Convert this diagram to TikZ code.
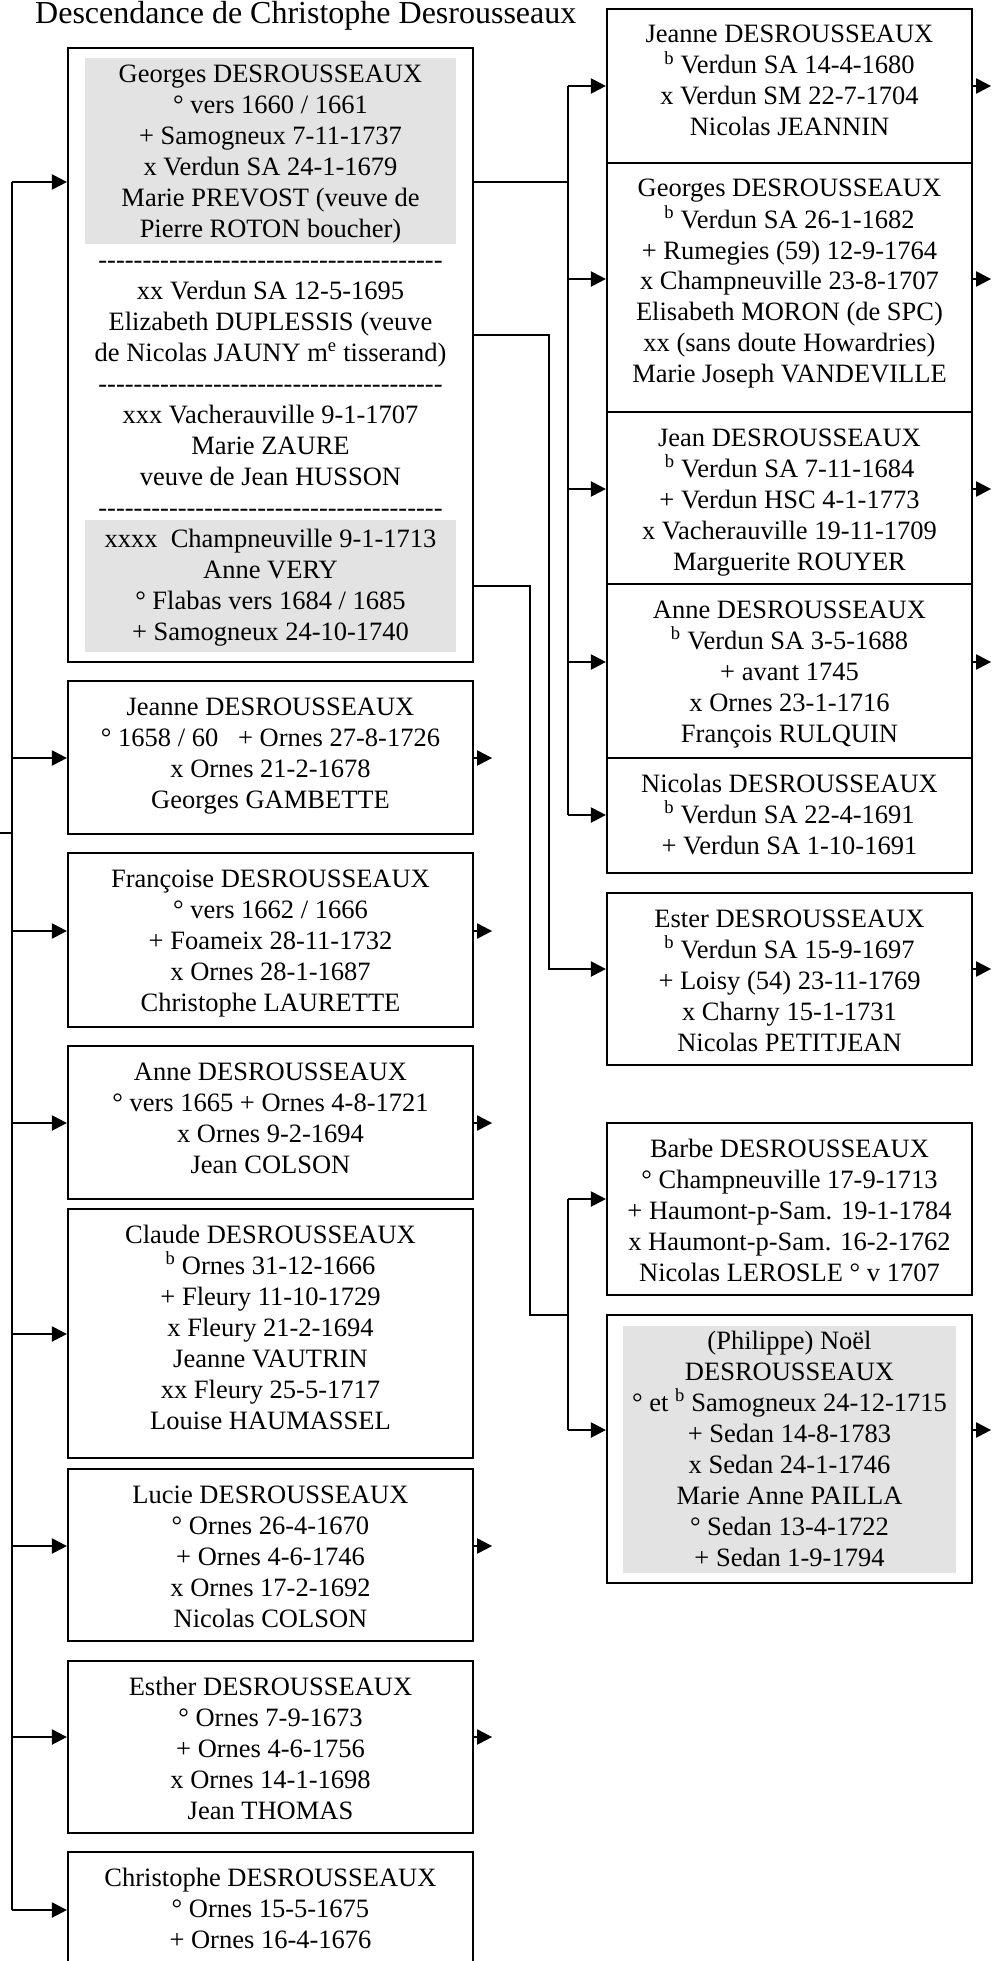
\documentclass[tikz,border=0pt]{standalone}
\usepackage{fontspec}
\setmainfont{Liberation Serif}
\usetikzlibrary{arrows.meta}

% a row of separate hyphens (kerns keep them from joining into dashes)
\ExplSyntaxOn
\NewDocumentCommand\dashrow{}{\prg_replicate:nn{39}{-\kern0pt}}
\ExplSyntaxOff

% card body: width, height, lines; text hangs from the top edge
\newcommand\card[3]{\parbox[c][#2pt][t]{#1pt}{\centering\rule{0pt}{34pt}#3}}

\tikzset{
  person/.style={draw, line width=2.2pt, inner sep=0pt, font=\fontsize{26.5}{31}\selectfont},
  link/.style={line width=2.2pt},
  arr/.style={link, -{Triangle[length=15pt,width=15pt]}},
  shade/.style={fill=black!11}
}

\begin{document}
\begin{tikzpicture}[x=1pt,y=-1pt]
\path[use as bounding box, fill=white] (0,0) rectangle (1000,1961);

% title
\node[anchor=base west, inner sep=0pt, font=\fontsize{32}{38}\selectfont] (title) at (35,24)
  {Descendance de Christophe Desrousseaux};

% shaded parts of cards
\fill[shade] (85,58) rectangle (456,244);
\fill[shade] (85,520) rectangle (456,652);
\fill[shade] (623,1326) rectangle (956,1573);

% left column
\node[person] (g) at (270.5,355) {\card{405}{614}{Georges DESROUSSEAUX\\
  ° vers 1660 / 1661\\
  + Samogneux 7-11-1737\\
  x Verdun SA 24-1-1679\\
  Marie PREVOST (veuve de\\
  Pierre ROTON boucher)\\
  \dashrow\\
  xx Verdun SA 12-5-1695\\
  Elizabeth DUPLESSIS (veuve\\
  de Nicolas JAUNY m\textsuperscript{e} tisserand)\\
  \dashrow\\
  xxx Vacherauville 9-1-1707\\
  Marie ZAURE\\
  veuve de Jean HUSSON\\
  \dashrow\\
  xxxx\ \ Champneuville 9-1-1713\\
  Anne VERY\\
  ° Flabas vers 1684 / 1685\\
  + Samogneux 24-10-1740}};

\node[person] (j1) at (270.5,757.5) {\card{405}{153}{Jeanne DESROUSSEAUX\\
  ° 1658 / 60\ \ \ + Ornes 27-8-1726\\
  x Ornes 21-2-1678\\
  Georges GAMBETTE}};

\node[person] (f) at (270.5,940) {\card{405}{174}{Françoise DESROUSSEAUX\\
  ° vers 1662 / 1666\\
  + Foameix 28-11-1732\\
  x Ornes 28-1-1687\\
  Christophe LAURETTE}};

\node[person] (a1) at (270.5,1122.5) {\card{405}{153}{Anne DESROUSSEAUX\\
  ° vers 1665 + Ornes 4-8-1721\\
  x Ornes 9-2-1694\\
  Jean COLSON}};

\node[person] (c) at (270.5,1333.5) {\card{405}{249}{Claude DESROUSSEAUX\\
  \textsuperscript{b} Ornes 31-12-1666\\
  + Fleury 11-10-1729\\
  x Fleury 21-2-1694\\
  Jeanne VAUTRIN\\
  xx Fleury 25-5-1717\\
  Louise HAUMASSEL}};

\node[person] (l) at (270.5,1555) {\card{405}{172}{Lucie DESROUSSEAUX\\
  ° Ornes 26-4-1670\\
  + Ornes 4-6-1746\\
  x Ornes 17-2-1692\\
  Nicolas COLSON}};

\node[person] (e) at (270.5,1747) {\card{405}{172}{Esther DESROUSSEAUX\\
  ° Ornes 7-9-1673\\
  + Ornes 4-6-1756\\
  x Ornes 14-1-1698\\
  Jean THOMAS}};

\node[person] (ch) at (270.5,1927) {\card{405}{150}{Christophe DESROUSSEAUX\\
  ° Ornes 15-5-1675\\
  + Ornes 16-4-1676}};

% right column
\node[person] (r1) at (789.5,86) {\card{365}{154}{Jeanne DESROUSSEAUX\\
  \textsuperscript{b} Verdun SA 14-4-1680\\
  x Verdun SM 22-7-1704\\
  Nicolas JEANNIN}};

\node[person] (r2) at (789.5,287.5) {\card{365}{249}{Georges DESROUSSEAUX\\
  \textsuperscript{b} Verdun SA 26-1-1682\\
  + Rumegies (59) 12-9-1764\\
  x Champneuville 23-8-1707\\
  Elisabeth MORON (de SPC)\\
  xx (sans doute Howardries)\\
  Marie Joseph VANDEVILLE}};

\node[person] (r3) at (789.5,498) {\card{365}{172}{Jean DESROUSSEAUX\\
  \textsuperscript{b} Verdun SA 7-11-1684\\
  + Verdun HSC 4-1-1773\\
  x Vacherauville 19-11-1709\\
  Marguerite ROUYER}};

\node[person] (r4) at (789.5,671) {\card{365}{174}{Anne DESROUSSEAUX\\
  \textsuperscript{b} Verdun SA 3-5-1688\\
  + avant 1745\\
  x Ornes 23-1-1716\\
  François RULQUIN}};

\node[person] (r5) at (789.5,815.5) {\card{365}{115}{Nicolas DESROUSSEAUX\\
  \textsuperscript{b} Verdun SA 22-4-1691\\
  + Verdun SA 1-10-1691}};

\node[person] (es) at (789.5,979) {\card{365}{172}{Ester DESROUSSEAUX\\
  \textsuperscript{b} Verdun SA 15-9-1697\\
  + Loisy (54) 23-11-1769\\
  x Charny 15-1-1731\\
  Nicolas PETITJEAN}};

\node[person] (b) at (789.5,1209) {\card{365}{172}{Barbe DESROUSSEAUX\\
  ° Champneuville 17-9-1713\\
  + Haumont-p-Sam. 19-1-1784\\
  x Haumont-p-Sam. 16-2-1762\\
  Nicolas LEROSLE ° v 1707}};

\node[person] (n) at (789.5,1449) {\card{365}{268}{(Philippe) Noël\\
  DESROUSSEAUX\\
  ° et \textsuperscript{b} Samogneux 24-12-1715\\
  + Sedan 14-8-1783\\
  x Sedan 24-1-1746\\
  Marie Anne PAILLA\\
  ° Sedan 13-4-1722\\
  + Sedan 1-9-1794}};

% sibling line on the left, fed from outside
\coordinate (spine) at (12,0);
\draw[link] (0,833) -- (spine |- 0,833);
\draw[link] (spine |- 0,182) -- (spine |- 0,1910);
\foreach \n/\y in {g/182, j1/758, f/931, a1/1123, c/1334, l/1546, e/1737, ch/1910}
  \draw[arr] (spine |- 0,\y) -- (\n.west |- 0,\y);

% onward links to further descendants
\foreach \n/\y in {j1/758, f/931, a1/1123, l/1546, e/1737, r1/86, r2/279, r3/489, r4/662, es/969, n/1430}
  \draw[arr] (\n.east |- 0,\y) -- ++(18,0);

% children of the first marriage
\coordinate (m1) at (568,182);
\draw[link] (g.east |- m1) -- (m1);
\draw[link] (568,86) -- (568,815);
\foreach \n/\y in {r1/86, r2/279, r3/489, r4/662, r5/815}
  \draw[arr] (568,\y) -- (\n.west |- 0,\y);

% child of the second marriage
\draw[arr] (g.east |- 0,335) -- (549,335) -- (549,969) -- (es.west |- 0,969);

% children of the fourth marriage
\coordinate (m4) at (568,1315);
\draw[link] (g.east |- 0,586) -- (530,586) -- (530,1315) -- (m4);
\draw[link] (568,1199) -- (568,1430);
\draw[arr] (568,1199) -- (b.west |- 0,1199);
\draw[arr] (568,1430) -- (n.west |- 0,1430);
\end{tikzpicture}
\end{document}
